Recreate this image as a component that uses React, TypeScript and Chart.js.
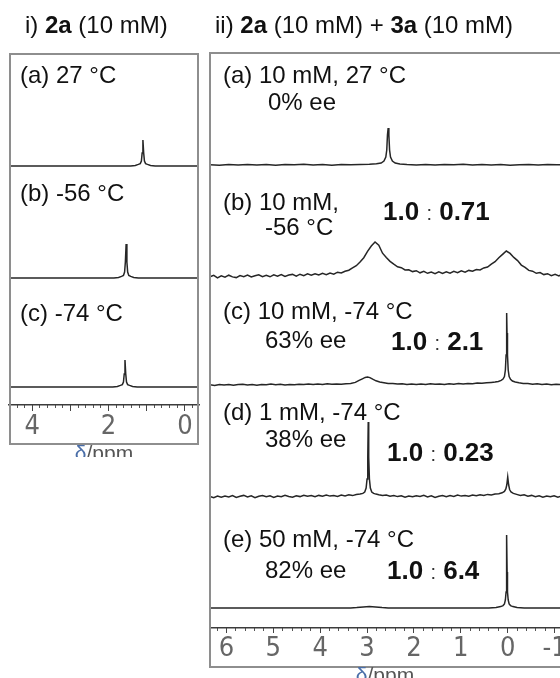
import React, { useEffect, useRef } from 'react';
import { Chart, registerables } from 'chart.js';

Chart.register(...registerables);

// ---------- Panel i) 2a (10 mM) : chemical shift (ppm) / intensity ----------
const L_A_PPM = [4.61, 1.42, 1.30, 1.22, 1.17, 1.14, 1.12, 1.10, 1.08, 1.06, 1.03, 0.98, 0.90, 0.78, -0.37];
const L_A_INT = [0, 0, 0.6, 1.6, 2.4, 5, 13, 26, 13, 5, 2.4, 1.6, 0.6, 0, 0];

const L_B_PPM = [4.61, 1.86, 1.74, 1.66, 1.61, 1.58, 1.56, 1.54, 1.52, 1.50, 1.47, 1.42, 1.34, 1.22, -0.37];
const L_B_INT = [0, 0, 0.6, 1.6, 2.6, 6, 16, 34, 16, 6, 2.6, 1.6, 0.6, 0, 0];

const L_C_PPM = [4.61, 1.89, 1.77, 1.69, 1.64, 1.61, 1.59, 1.57, 1.55, 1.53, 1.50, 1.45, 1.37, 1.25, -0.37];
const L_C_INT = [0, 0, 0.6, 1.6, 2.4, 5, 13, 27, 13, 5, 2.4, 1.6, 0.6, 0, 0];

// ---------- Panel ii) 2a (10 mM) + 3a (10 mM) ----------
const R_A_PPM = [6.35, 6.15, 5.95, 5.75, 5.55, 5.35, 5.15, 4.95, 4.75, 4.55, 4.35, 4.15, 3.95, 3.75, 3.55, 3.35, 3.15, 2.95,
  2.8, 2.7, 2.64, 2.6, 2.58, 2.565, 2.55, 2.535, 2.52, 2.5, 2.46, 2.4, 2.3,
  2.15, 1.95, 1.75, 1.55, 1.35, 1.15, 0.95, 0.75, 0.55, 0.35, 0.15, -0.05, -0.25, -0.45, -0.65, -0.85, -1.05, -1.12];
const R_A_INT = [0.3, -0.2, 0.5, 0.1, 0.6, 0.0, 0.4, -0.3, 0.5, 0.2, 0.7, 0.1, 0.4, -0.2, 0.5, 0.3, 0.6, 0.8,
  1.2, 2.0, 4.0, 8.0, 15, 30, 37, 30, 15, 8.0, 4.0, 2.0, 1.0,
  0.5, 0.1, 0.6, -0.1, 0.4, 0.2, 0.7, 0.0, 0.5, 0.1, 0.6, -0.2, 0.3, 0.5, 0.0, 0.4, 0.2, 0.3];

const R_B_PPM = [6.35, 6.27, 6.19, 6.11, 6.03, 5.95, 5.87, 5.79, 5.71, 5.63, 5.55, 5.47, 5.39, 5.31, 5.23, 5.15, 5.07, 4.99,
  4.91, 4.83, 4.75, 4.67, 4.59, 4.51, 4.43, 4.35, 4.27, 4.19, 4.11, 4.03, 3.95, 3.87, 3.79, 3.71, 3.63, 3.55, 3.47, 3.39,
  3.31, 3.23, 3.15, 3.07, 2.99, 2.91, 2.83, 2.75, 2.67, 2.59, 2.51, 2.43, 2.35, 2.27, 2.19, 2.11, 2.03, 1.95, 1.87, 1.79,
  1.71, 1.63, 1.55, 1.47, 1.39, 1.31, 1.23, 1.15, 1.07, 0.99, 0.91, 0.83, 0.75, 0.67, 0.59, 0.51, 0.43, 0.35, 0.27, 0.19,
  0.11, 0.03, -0.05, -0.13, -0.21, -0.29, -0.37, -0.45, -0.53, -0.61, -0.69, -0.77, -0.85, -0.93, -1.01, -1.09, -1.12];
const R_B_INT = [0.2, 1.6, -0.8, 1.2, -0.1, 1.8, 0.1, -0.6, 1.4, 0.3, 2.0, 0.0, 1.3, 2.2, 0.4, 1.7, 0.2, 2.1,
  0.8, 2.4, 0.6, 1.9, 2.6, 0.9, 2.8, 1.4, 3.1, 1.8, 3.3, 2.0, 3.6, 2.4, 4.0, 2.9, 4.8, 4.0, 5.8, 6.8,
  9.1, 11.3, 15.0, 19.3, 25.6, 31.0, 35.0, 31.7, 23.8, 19.4, 15.6, 12.8, 10.2, 9.3, 7.0, 7.2, 5.4, 6.3, 4.2, 5.7,
  3.7, 5.0, 3.4, 5.1, 3.6, 5.2, 3.9, 5.6, 4.4, 6.1, 4.9, 6.6, 5.8, 7.5, 7.0, 9.1, 10.0, 12.8, 15.3, 19.2,
  22.6, 26.0, 23.6, 19.6, 16.4, 11.9, 9.6, 6.6, 5.8, 3.7, 4.4, 2.4, 3.3, 1.4, 2.6, 1.0, 1.8];

const R_C_PPM = [6.35, 6.25, 6.15, 6.05, 5.95, 5.85, 5.75, 5.65, 5.55, 5.45, 5.35, 5.25, 5.15, 5.05, 4.95, 4.85, 4.75, 4.65,
  4.55, 4.45, 4.35, 4.25, 4.15, 4.05, 3.95, 3.85, 3.75, 3.65, 3.55, 3.45, 3.35, 3.25, 3.17, 3.10, 3.04, 2.99, 2.94, 2.88,
  2.81, 2.73, 2.64, 2.55, 2.45, 2.35, 2.25, 2.15, 2.05, 1.95, 1.85, 1.75, 1.65, 1.55, 1.45, 1.35, 1.25, 1.15, 1.05, 0.95,
  0.85, 0.75, 0.65, 0.55, 0.45, 0.35, 0.27, 0.20, 0.14, 0.10, 0.07, 0.05, 0.035, 0.025, 0.02, 0.015, 0.005, -0.01, -0.03,
  -0.06, -0.10, -0.16, -0.24, -0.33, -0.43, -0.53, -0.63, -0.73, -0.83, -0.93, -1.03, -1.12];
const R_C_INT = [0.2, -0.4, 0.6, 0.0, 0.5, -0.3, 0.4, 0.8, 0.1, 0.6, -0.2, 0.5, 0.2, 0.9, 0.3, 0.7, 0.0, 0.6,
  0.2, 0.8, 0.4, 1.0, 0.5, 0.9, 0.6, 1.2, 0.8, 1.0, 0.8, 1.2, 1.6, 2.6, 4.6, 6.2, 7.6, 8.0, 7.4, 5.8,
  4.2, 3.0, 2.3, 1.6, 1.4, 0.9, 1.3, 0.6, 1.1, 0.5, 1.0, 0.4, 1.2, 0.7, 1.1, 0.5, 1.3, 0.8, 1.4, 1.0,
  1.6, 1.3, 1.9, 1.7, 2.2, 2.6, 3.0, 3.6, 4.6, 6.0, 8.5, 15, 30, 52, 72, 52, 30, 15, 8.5,
  5.6, 4.0, 3.0, 2.2, 1.6, 1.4, 0.8, 1.2, 0.5, 0.9, 0.3, 0.8, 0.4];

const R_D_PPM = [6.35, 6.27, 6.19, 6.11, 6.03, 5.95, 5.87, 5.79, 5.71, 5.63, 5.55, 5.47, 5.39, 5.31, 5.23, 5.15, 5.07, 4.99,
  4.91, 4.83, 4.75, 4.67, 4.59, 4.51, 4.43, 4.35, 4.27, 4.19, 4.11, 4.03, 3.95, 3.87, 3.79, 3.71, 3.63, 3.55, 3.47, 3.39,
  3.31, 3.23, 3.15, 3.09, 3.05, 3.02, 3.00, 2.985, 2.975, 2.965, 2.95, 2.93, 2.90, 2.86, 2.81, 2.75,
  2.67, 2.59, 2.51, 2.43, 2.35, 2.27, 2.19, 2.11, 2.03, 1.95, 1.87, 1.79, 1.71, 1.63, 1.55, 1.47, 1.39, 1.31, 1.23, 1.15,
  1.07, 0.99, 0.91, 0.83, 0.75, 0.67, 0.59, 0.51, 0.43, 0.35, 0.27, 0.19, 0.12, 0.07, 0.04, 0.02, 0.00, -0.02, -0.04,
  -0.07, -0.12, -0.19, -0.27, -0.35, -0.43, -0.51, -0.59, -0.67, -0.75, -0.83, -0.91, -0.99, -1.07, -1.12];
const R_D_INT = [0.5, -0.8, 1.0, -0.3, 0.9, 0.1, 1.4, -0.5, 0.7, 1.6, 0.0, 1.1, -0.7, 0.8, 1.5, 0.2, 1.2, -0.4,
  1.0, 0.3, 1.7, 0.6, -0.2, 1.3, 0.4, 1.8, 0.7, 1.4, 0.2, 1.6, 0.8, 2.0, 0.9, 1.5, 0.6, 1.9, 1.1, 2.2,
  1.4, 2.5, 2.9, 3.6, 5.0, 9, 18, 40, 75, 40, 18, 9, 5.0, 3.6, 2.9, 2.2,
  1.4, 2.0, 0.8, 1.5, 0.4, 1.2, -0.3, 0.9, 0.2, 1.3, 0.5, 1.6, 0.1, 1.1, -0.4, 0.8, 1.5, 0.3, 1.4, 0.6,
  1.9, 0.9, 1.6, 0.8, 2.0, 1.2, 2.3, 1.5, 2.6, 2.0, 2.9, 3.3, 4.2, 5.6, 8, 12, 20, 12, 7.5,
  5.0, 3.6, 2.6, 1.5, 2.2, 0.8, 1.6, 0.3, 1.3, -0.2, 1.0, 0.2, 1.2, -0.1, 0.6];

const R_E_PPM = [6.35, 3.35, 3.22, 3.08, 2.95, 2.82, 2.68, 2.55, 0.40, 0.25, 0.15, 0.10, 0.07, 0.05, 0.035, 0.027, 0.02,
  0.013, 0.005, -0.01, -0.03, -0.06, -0.11, -0.2, -0.35, -1.12];
const R_E_INT = [0, 0, 0.4, 1.1, 1.4, 1.0, 0.4, 0, 0, 0.6, 1.4, 2.4, 4.0, 8, 16, 36, 73,
  36, 16, 8, 4.0, 2.4, 1.4, 0.6, 0, 0];

// tick labels shown on each x axis
const LEFT_TICK_LABELS = [4, 2, 0];
const RIGHT_TICK_LABELS = [6, 5, 4, 3, 2, 1, 0, -1];

const TRACE = '#262626';
const AXIS = '#3c3c3c';
const TICK_FONT = "'Liberation Sans Narrow', 'DejaVu Sans Condensed', 'Liberation Sans', sans-serif";

type Spec = { ppm: number[]; int: number[] };

const pts = (s: Spec) => s.ppm.map((x, i) => ({ x, y: s.int[i] }));

interface ChartProps {
  left: number;
  width: number;
  height: number;
  spectra: Spec[];
  rows: [number, number][];
  xMin: number;
  xMax: number;
  tickLabels: number[];
  majorLen: number;
  padding: { left: number; right: number; top: number; bottom: number };
}

function SpectraChart(p: ChartProps) {
  const ref = useRef<HTMLCanvasElement | null>(null);
  useEffect(() => {
    const scales: any = {};
    p.rows.forEach(([min, max], i) => {
      scales['y' + i] = {
        type: 'linear',
        position: 'right',
        stack: 'rows',
        stackWeight: max - min,
        weight: i,
        min,
        max,
        ticks: { display: false },
        grid: { display: false, drawTicks: false },
        border: { display: false },
        afterFit: (s: any) => { s.width = 0; },
      };
    });
    scales.xMinor = {
      type: 'linear',
      position: 'bottom',
      weight: 0,
      min: p.xMin,
      max: p.xMax,
      reverse: true,
      ticks: { display: false, stepSize: 0.2, includeBounds: false, autoSkip: false },
      grid: { display: true, drawOnChartArea: false, drawTicks: true, tickLength: 3, color: '#555', lineWidth: 1 },
      border: { display: false },
      afterFit: (s: any) => { s.height = 0; s.paddingLeft = 0; s.paddingRight = 0; },
    };
    scales.x = {
      type: 'linear',
      position: 'bottom',
      weight: 1,
      min: p.xMin,
      max: p.xMax,
      reverse: true,
      ticks: {
        stepSize: 1,
        includeBounds: false,
        autoSkip: false,
        maxRotation: 0,
        minRotation: 0,
        padding: 0,
        color: '#666',
        font: { family: TICK_FONT, size: 27 },
        callback: (v: any) => (p.tickLabels.includes(Number(v)) ? String(v) : ''),
      },
      grid: { display: true, drawOnChartArea: false, drawTicks: true, tickLength: p.majorLen, color: '#444', lineWidth: 1 },
      border: { display: true, color: AXIS, width: 1.5 },
      afterFit: (s: any) => { s.height = 40; s.paddingLeft = 0; s.paddingRight = 0; },
    };
    const chart = new Chart(ref.current as HTMLCanvasElement, {
      type: 'line',
      data: {
        datasets: p.spectra.map((s, i) => ({
          data: pts(s),
          xAxisID: 'x',
          yAxisID: 'y' + i,
          borderColor: TRACE,
          borderWidth: 1.5,
          pointRadius: 0,
          tension: 0,
          fill: false,
          clip: false as any,
        })),
      },
      options: {
        animation: false,
        responsive: false,
        devicePixelRatio: 1,
        layout: { padding: p.padding },
        plugins: { legend: { display: false }, tooltip: { enabled: false }, title: { display: false } },
        scales,
      } as any,
    });
    return () => chart.destroy();
  }, []);
  return (
    <canvas
      ref={ref}
      width={p.width}
      height={p.height}
      style={{ position: 'absolute', left: p.left, top: 0, width: p.width, height: p.height }}
    />
  );
}

function Txt({ x, base, size = 24, children }: { x: number; base: number; size?: number; children: any }) {
  return (
    <div
      style={{
        position: 'absolute',
        left: x,
        top: base - size * 0.8465,
        fontSize: size,
        lineHeight: `${size}px`,
        whiteSpace: 'nowrap',
        color: '#111',
      }}
    >
      {children}
    </div>
  );
}

function Ratio({ x, base, a, b }: { x: number; base: number; a: string; b: string }) {
  return (
    <Txt x={x} base={base} size={26}>
      <b>{a}</b> <span style={{ fontSize: 20, color: '#333' }}>:</span> <b>{b}</b>
    </Txt>
  );
}

function AxisTitle({ cx, top }: { cx: number; top: number }) {
  return (
    <div style={{ position: 'absolute', left: cx, top, height: 12, overflow: 'hidden', transform: 'translateX(-50%)' }}>
      <div style={{ fontSize: 21, lineHeight: '21px', marginTop: -3, whiteSpace: 'nowrap', color: '#555' }}>
        <span style={{ color: '#4a6ea8' }}>δ</span>/ppm
      </div>
    </div>
  );
}

export default function App() {
  const leftSpectra: Spec[] = [
    { ppm: L_A_PPM, int: L_A_INT },
    { ppm: L_B_PPM, int: L_B_INT },
    { ppm: L_C_PPM, int: L_C_INT },
  ];
  const rightSpectra: Spec[] = [
    { ppm: R_A_PPM, int: R_A_INT },
    { ppm: R_B_PPM, int: R_B_INT },
    { ppm: R_C_PPM, int: R_C_INT },
    { ppm: R_D_PPM, int: R_D_INT },
    { ppm: R_E_PPM, int: R_E_INT },
  ];
  return (
    <div
      style={{
        position: 'absolute',
        left: 0,
        top: 0,
        width: 560,
        height: 678,
        overflow: 'hidden',
        background: '#fff',
        fontFamily: "'Liberation Sans', Arial, sans-serif",
      }}
    >
      <SpectraChart
        left={0}
        width={205}
        height={470}
        spectra={leftSpectra}
        rows={[[0, 113], [0, 112], [-18, 109]]}
        xMin={-0.37}
        xMax={4.61}
        tickLabels={LEFT_TICK_LABELS}
        majorLen={6}
        padding={{ left: 9, right: 6, top: 53, bottom: 25 }}
      />
      <SpectraChart
        left={205}
        width={355}
        height={678}
        spectra={rightSpectra}
        rows={[[0, 113], [0, 112], [0, 108], [0, 112], [-20, 111]]}
        xMin={-1.115}
        xMax={6.35}
        tickLabels={RIGHT_TICK_LABELS}
        majorLen={5}
        padding={{ left: 5, right: 0, top: 52, bottom: 10 }}
      />
      {/* panel frames */}
      <div style={{ position: 'absolute', left: 9, top: 53, width: 190, height: 392, border: '2px solid #8e8e8e', boxSizing: 'border-box', pointerEvents: 'none' }} />
      <div style={{ position: 'absolute', left: 209, top: 52, width: 420, height: 616, border: '2px solid #8e8e8e', boxSizing: 'border-box', pointerEvents: 'none' }} />

      <Txt x={25} base={33}>i) <b>2a</b> (10 mM)</Txt>
      <Txt x={215} base={33}>ii) <b>2a</b> (10 mM) + <b>3a</b> (10 mM)</Txt>

      <Txt x={20} base={83}>(a) 27 °C</Txt>
      <Txt x={20} base={201}>(b) -56 °C</Txt>
      <Txt x={20} base={321}>(c) -74 °C</Txt>

      <Txt x={223} base={83}>(a) 10 mM, 27 °C</Txt>
      <Txt x={268} base={110}>0% ee</Txt>
      <Txt x={223} base={210}>(b) 10 mM,</Txt>
      <Txt x={265} base={235}>-56 °C</Txt>
      <Ratio x={383} base={220} a="1.0" b="0.71" />
      <Txt x={223} base={319}>(c) 10 mM, -74 °C</Txt>
      <Txt x={265} base={348}>63% ee</Txt>
      <Ratio x={391} base={350} a="1.0" b="2.1" />
      <Txt x={223} base={420}>(d) 1 mM, -74 °C</Txt>
      <Txt x={265} base={447}>38% ee</Txt>
      <Ratio x={387} base={461} a="1.0" b="0.23" />
      <Txt x={223} base={547}>(e) 50 mM, -74 °C</Txt>
      <Txt x={265} base={578}>82% ee</Txt>
      <Ratio x={387} base={579} a="1.0" b="6.4" />

      <AxisTitle cx={104} top={445} />
      <AxisTitle cx={385} top={667} />
    </div>
  );
}
